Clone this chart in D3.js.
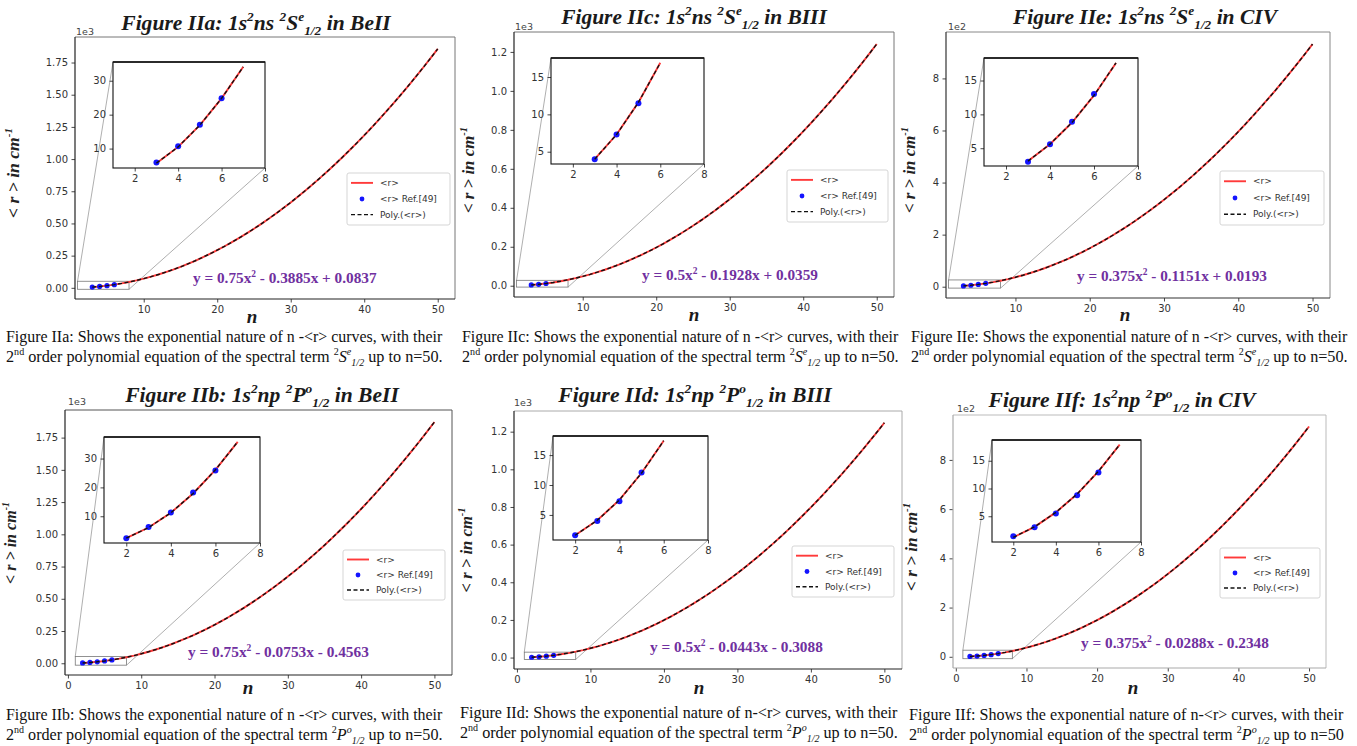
<!DOCTYPE html>
<html><head><meta charset="utf-8">
<script src="https://cdn.jsdelivr.net/npm/d3@7"></script>
<style>body{margin:0;background:#fff}svg{display:block}text{white-space:pre}</style>
</head><body><svg id="c" width="1357" height="746"></svg>
<script>
// ---------------- DATA ----------------
const nS = [3,4,5,6,7,8,9,10,11,12,13,14,15,16,17,18,19,20,21,22,23,24,25,26,27,28,29,30,31,32,33,34,35,36,37,38,39,40,41,42,43,44,45,46,47,48,49,50];
const nP = [2,3,4,5,6,7,8,9,10,11,12,13,14,15,16,17,18,19,20,21,22,23,24,25,26,27,28,29,30,31,32,33,34,35,36,37,38,39,40,41,42,43,44,45,46,47,48,49,50];

// <r> values (BeII ns 2S, BeII np 2P, BIII ns 2S, BIII np 2P, CIV ns 2S, CIV np 2P)
const rBeS = [5.7,10.5,16.9,24.8,34.1,45.0,57.3,71.2,86.6,103.4,121.8,141.6,163.0,185.9,210.2,236.1,263.5,292.3,322.7,354.5,387.9,422.8,459.1,497.0,536.3,577.2,619.6,663.4,708.8,755.7,804.0,853.9,905.2,958.1,1012.5,1068.3,1125.7,1184.5,1244.9,1306.8,1370.1,1435.0,1501.4,1569.2,1638.6,1709.4,1781.8,1855.7];
const rBeP = [2.4,6.1,11.2,17.9,26.1,35.8,46.9,59.6,73.8,89.5,106.6,125.3,145.5,167.2,190.3,215.0,241.2,268.9,298.0,328.7,360.9,394.6,429.7,466.4,504.6,544.3,585.4,628.1,672.3,718.0,765.1,813.8,864.0,915.7,968.8,1023.5,1079.7,1137.4,1196.5,1257.2,1319.4,1383.1,1448.2,1514.9,1583.1,1652.8,1723.9,1796.6,1870.8];
const rBS = [4.0,7.3,11.6,16.9,23.2,30.5,38.8,48.1,58.4,69.7,82.0,95.3,109.6,125.0,141.3,158.6,176.9,196.2,216.5,237.8,260.1,283.4,307.7,333.0,359.3,386.6,415.0,444.3,474.6,505.9,538.2,571.5,605.8,641.1,677.4,714.7,753.0,792.3,832.6,873.9,916.3,959.6,1003.9,1049.2,1095.5,1142.8,1191.1,1240.4];
const rBP = [1.6,4.1,7.5,12.0,17.4,23.9,31.3,39.8,49.3,59.7,71.2,83.6,97.1,111.5,127.0,143.4,160.9,179.4,198.8,219.3,240.7,263.2,286.6,311.1,336.5,363.0,390.5,418.9,448.4,478.8,510.3,542.7,576.2,610.6,646.1,682.6,720.0,758.5,797.9,838.4,879.8,922.3,965.7,1010.2,1055.7,1102.1,1149.6,1198.0,1247.5];
const rCS = [3.1,5.6,8.8,12.8,17.6,23.1,29.4,36.4,44.1,52.6,61.9,71.9,82.7,94.2,106.4,119.5,133.2,147.7,163.0,179.0,195.8,213.3,231.5,250.5,270.3,290.8,312.1,334.1,356.8,380.3,404.6,429.6,455.4,481.9,509.1,537.2,565.9,595.4,625.7,656.7,688.5,721.0,754.2,788.2,823.0,858.5,894.8,931.8];
const rCP = [1.2,3.1,5.7,9.0,13.1,17.9,23.5,29.9,37.0,44.8,53.4,62.8,72.9,83.7,95.3,107.7,120.8,134.6,149.2,164.5,180.6,197.5,215.1,233.4,252.5,272.4,293.0,314.3,336.4,359.3,382.8,407.2,432.3,458.1,484.7,512.1,540.2,569.0,598.6,629.0,660.1,691.9,724.5,757.8,791.9,826.8,862.4,898.7,935.8];

// Ref.[49] points
const refNBeS = [3,4,5,6],   refBeS = [5.9,10.7,17.0,24.8];
const refNBeP = [2,3,4,5,6], refBeP = [2.4,6.3,11.3,18.2,25.9];
const refNBS  = [3,4,5],     refBS  = [4.0,7.3,11.5];
const refNBP  = [2,3,4,5],   refBP  = [1.6,4.0,7.3,12.1];
const refNCS  = [3,4,5,6],   refCS  = [3.0,5.6,8.9,13.0];
const refNCP  = [2,3,4,5,6], refCP  = [1.4,3.0,5.5,8.8,12.9];

// ticks
const yTicksBe = [0,250,500,750,1000,1250,1500,1750];
const yLabBe = ["0.00","0.25","0.50","0.75","1.00","1.25","1.50","1.75"];
const yTicksB = [0,200,400,600,800,1000,1200];
const yLabB = ["0.0","0.2","0.4","0.6","0.8","1.0","1.2"];
const yTicksC = [0,200,400,600,800];
const yLabC = ["0","2","4","6","8"];
const xTicksS = [10,20,30,40,50];
const xTicksP = [0,10,20,30,40,50];
const insetXTicks = [2,4,6,8];
const insetYBe = [10,20,30];
const insetYBC = [5,10,15];

const legendLabels = ["<r>", "<r> Ref.[49]", "Poly.(<r>)"];

// texts (rich: [text, 'sup'|'sub'|'', italic?])
const titleA = [["Figure IIa: 1s"],["2","sup"],["ns "],["2","sup"],["S"],["e","sup"],["1/2","sub"],[" in BeII"]];
const titleC = [["Figure IIc: 1s"],["2","sup"],["ns "],["2","sup"],["S"],["e","sup"],["1/2","sub"],[" in BIII"]];
const titleE = [["Figure IIe: 1s"],["2","sup"],["ns "],["2","sup"],["S"],["e","sup"],["1/2","sub"],[" in CIV"]];
const titleB = [["Figure IIb: 1s"],["2","sup"],["np "],["2","sup"],["P"],["o","sup"],["1/2","sub"],[" in BeII"]];
const titleD = [["Figure IId: 1s"],["2","sup"],["np "],["2","sup"],["P"],["o","sup"],["1/2","sub"],[" in BIII"]];
const titleF = [["Figure IIf: 1s"],["2","sup"],["np "],["2","sup"],["P"],["o","sup"],["1/2","sub"],[" in CIV"]];

const eqA = [["y = 0.75x"],["2","sup"],[" - 0.3885x + 0.0837"]];
const eqC = [["y = 0.5x"],["2","sup"],[" - 0.1928x + 0.0359"]];
const eqE = [["y = 0.375x"],["2","sup"],[" - 0.1151x + 0.0193"]];
const eqB = [["y = 0.75x"],["2","sup"],[" - 0.0753x - 0.4563"]];
const eqD = [["y = 0.5x"],["2","sup"],[" - 0.0443x - 0.3088"]];
const eqF = [["y = 0.375x"],["2","sup"],[" - 0.0288x - 0.2348"]];

const capA1 = [["Figure IIa: Shows the exponential nature of n -<r> curves, with their"]];
const capC1 = [["Figure IIc: Shows the exponential nature of n -<r> curves, with their"]];
const capE1 = [["Figure IIe: Shows the exponential nature of n -<r> curves, with their"]];
const capB1 = [["Figure IIb: Shows the exponential nature of n -<r> curves, with their"]];
const capD1 = [["Figure IId: Shows the exponential nature of n-<r> curves, with their"]];
const capF1 = [["Figure IIf: Shows the exponential nature of n-<r> curves, with their"]];
const capS2 = [["2"],["nd","sup"],[" order polynomial equation of the spectral term "],["2","sup"],["S","","i"],["e","sup","i"],["1/2","sub","i"],[" up to n=50."]];
const capP2 = [["2"],["nd","sup"],[" order polynomial equation of the spectral term "],["2","sup"],["P","","i"],["o","sup","i"],["1/2","sub","i"],[" up to n=50."]];
const capF2 = [["2"],["nd","sup"],[" order polynomial equation of the spectral term "],["2","sup"],["P","","i"],["o","sup","i"],["1/2","sub","i"],[" up to n=50"]];
const yLabel = [["< r > in cm"],["-1","sup"]];

// ---------------- LAYOUT ----------------
const L = {
 a:{frame:[75,37,455,299], inset:[113,62,265,168], legend:[347,173,450,225], title:[256,30,272], mult:[76,35], ylab:[19,173,90], xlab:[252,323], eq:[193,283,184], cap:[6,342,362,437], spine:['#222','#777']},
 c:{frame:[514,32,894,297], inset:[551,58,704,164], legend:[787,170,888,222], title:[694,24,268], mult:[515,30], ylab:[474,170,86], xlab:[694,321], eq:[642,280,176], cap:[462,342,362,437], spine:['#222','#777']},
 e:{frame:[946,32,1330,298], inset:[984,58,1138,166], legend:[1220,171,1324,225], title:[1145,24,267], mult:[948,30], ylab:[915,170,86], xlab:[1125,321], eq:[1077,281,190], cap:[911,342,362,437], spine:['#333','#888']},
 b:{frame:[65,410,452,675], inset:[104,437,260,543], legend:[343,550,445,600], title:[262,402,276], mult:[68,405], ylab:[16,543,82], xlab:[248,694], eq:[188,657,181], cap:[6,720,740,437], spine:['#222','#555']},
 d:{frame:[514,411,902,669], inset:[553,436,708,540], legend:[792,546,894,597], title:[695,402,276], mult:[514,406], ylab:[472,550,85], xlab:[699,694], eq:[650,652,173], cap:[460,718,738,438], spine:['#222','#aaa']},
 f:{frame:[953,415,1326,668], inset:[992,440,1141,542], legend:[1220,548,1320,598], title:[1122,407,270], mult:[957,412], ylab:[917,547,88], xlab:[1133,694], eq:[1081,648,188], cap:[909,720,740,435], spine:['#aaa','#bbb']}
};

const panels = [
 {k:'a', n:nS, r:rBeS, refN:refNBeS, ref:refBeS, insetMax:7, yT:yTicksBe, yL:yLabBe, xT:xTicksS, iyT:insetYBe, title:titleA, eq:eqA, cap1:capA1, cap2:capS2, mult:'1e3'},
 {k:'c', n:nS, r:rBS,  refN:refNBS,  ref:refBS,  insetMax:6, yT:yTicksB,  yL:yLabB,  xT:xTicksS, iyT:insetYBC, title:titleC, eq:eqC, cap1:capC1, cap2:capS2, mult:'1e3'},
 {k:'e', n:nS, r:rCS,  refN:refNCS,  ref:refCS,  insetMax:7, yT:yTicksC,  yL:yLabC,  xT:xTicksS, iyT:insetYBC, title:titleE, eq:eqE, cap1:capE1, cap2:capS2, mult:'1e2'},
 {k:'b', n:nP, r:rBeP, refN:refNBeP, ref:refBeP, insetMax:7, yT:yTicksBe, yL:yLabBe, xT:xTicksP, iyT:insetYBe, title:titleB, eq:eqB, cap1:capB1, cap2:capP2, mult:'1e3'},
 {k:'d', n:nP, r:rBP,  refN:refNBP,  ref:refBP,  insetMax:6, yT:yTicksB,  yL:yLabB,  xT:xTicksP, iyT:insetYBC, title:titleD, eq:eqD, cap1:capD1, cap2:capP2, mult:'1e3'},
 {k:'f', n:nP, r:rCP,  refN:refNCP,  ref:refCP,  insetMax:7, yT:yTicksC,  yL:yLabC,  xT:xTicksP, iyT:insetYBC, title:titleF, eq:eqF, cap1:capF1, cap2:capF2, mult:'1e2'}
];

// ---------------- DRAW ----------------
const svg = d3.select('#c');
const SERIF = "'Liberation Serif','Times New Roman',serif";
const SANS = "'DejaVu Sans',sans-serif";
const RED = '#ff3a3a', BLUE = '#1414ff', PURPLE = '#7030a0';
const intFmt = d3.format('d');

function rich(sel, parts, fs) {
  sel.selectAll('tspan').remove();
  let cur = 0;
  parts.forEach(([t, m, st]) => {
    const tgt = m === 'sup' ? -0.42 * fs : m === 'sub' ? 0.25 * fs : 0;
    const ts = sel.append('tspan').attr('dy', (tgt - cur).toFixed(2))
      .attr('font-size', m ? (fs * 0.62).toFixed(2) : fs.toFixed(2)).text(t);
    if (st === 'i') ts.attr('font-style', 'italic');
    cur = tgt;
  });
}
function fitRich(sel, parts, fs0, width) {
  rich(sel, parts, fs0);
  const w = sel.node().getBBox().width;
  rich(sel, parts, fs0 * width / w);
}
const padDom = e => { const d = (e[1] - e[0]) * 0.05; return [e[0] - d, e[1] + d]; };

function styleAxis(g, fs) {
  g.select('.domain').remove();
  g.selectAll('.tick line').attr('stroke', '#333').attr('stroke-width', 0.9);
  g.selectAll('.tick text').attr('font-family', SANS).attr('font-size', fs).attr('fill', '#333');
}

panels.forEach((p) => {
  const lay = L[p.k];
  const [l, t, r, b] = lay.frame;
  const pts = p.n.map((n, i) => [n, p.r[i]]);
  const refs = p.refN.map((n, i) => [n, p.ref[i]]);
  const x = d3.scaleLinear().domain(padDom(d3.extent(p.n))).range([l, r]);
  const y = d3.scaleLinear().domain(padDom(d3.extent(p.r))).range([b, t]);
  const g = svg.append('g');

  // inset geometry
  const ipts = pts.filter(d => d[0] <= p.insetMax);
  const iyDom = padDom(d3.extent(ipts, d => d[1]));
  const [il, it, ir, ib] = lay.inset;
  const xi = d3.scaleLinear().domain([1, 8]).range([il, ir]);
  const yi = d3.scaleLinear().domain(iyDom).range([ib, it]);

  // connectors + zoom rect
  g.append('line').attr('x1', x(1)).attr('y1', y(iyDom[1]) - 2).attr('x2', il).attr('y2', it)
    .attr('stroke', '#9a9a9a').attr('stroke-width', 0.8);
  g.append('line').attr('x1', x(8)).attr('y1', y(iyDom[0]) + 2).attr('x2', ir).attr('y2', ib)
    .attr('stroke', '#9a9a9a').attr('stroke-width', 0.8);
  g.append('rect').attr('x', x(1)).attr('y', y(iyDom[1]) - 2)
    .attr('width', x(8) - x(1)).attr('height', y(iyDom[0]) - y(iyDom[1]) + 4)
    .attr('fill', 'none').attr('stroke', '#777').attr('stroke-width', 0.8);

  // main series
  const line = d3.line().x(d => x(d[0])).y(d => y(d[1]));
  g.append('path').datum(pts).attr('d', line).attr('fill', 'none').attr('stroke', RED).attr('stroke-width', 1.9);
  g.selectAll('circle.ref').data(refs).join('circle').attr('class', 'ref')
    .attr('cx', d => x(d[0])).attr('cy', d => y(d[1])).attr('r', 2.6).attr('fill', BLUE);
  g.append('path').datum(pts).attr('d', line).attr('fill', 'none').attr('stroke', '#111')
    .attr('stroke-width', 1.4).attr('stroke-dasharray', '4,2.5');

  // axes
  const ax = g.append('g').attr('transform', `translate(0,${b})`)
    .call(d3.axisBottom(x).tickValues(p.xT).tickFormat(intFmt).tickSize(3.5).tickPadding(3.5));
  styleAxis(ax, 10);
  const ay = g.append('g').attr('transform', `translate(${l},0)`)
    .call(d3.axisLeft(y).tickValues(p.yT).tickFormat((d, i) => p.yL[i]).tickSize(3.5).tickPadding(3.5));
  styleAxis(ay, 10);

  // frame
  g.append('line').attr('x1', l).attr('y1', t).attr('x2', r).attr('y2', t).attr('stroke', lay.spine[1]).attr('stroke-width', 1);
  g.append('line').attr('x1', r).attr('y1', t).attr('x2', r).attr('y2', b).attr('stroke', lay.spine[1]).attr('stroke-width', 1);
  g.append('line').attr('x1', l).attr('y1', t).attr('x2', l).attr('y2', b).attr('stroke', lay.spine[0]).attr('stroke-width', 1.2);
  g.append('line').attr('x1', l).attr('y1', b).attr('x2', r).attr('y2', b).attr('stroke', lay.spine[0]).attr('stroke-width', 1.2);

  // multiplier
  g.append('text').attr('x', lay.mult[0]).attr('y', lay.mult[1]).attr('font-family', SANS)
    .attr('font-size', 9.5).attr('fill', '#444').text(p.mult);

  // legend
  const [ll, lt, lr, lb] = lay.legend;
  const lh = lb - lt;
  const lg = g.append('g');
  lg.append('rect').attr('x', ll).attr('y', lt).attr('width', lr - ll).attr('height', lh).attr('rx', 2)
    .attr('fill', '#fff').attr('fill-opacity', 0.85).attr('stroke', '#d0d0d0').attr('stroke-width', 0.9);
  const rowY = [lt + lh * 0.19, lt + lh * 0.5, lt + lh * 0.8];
  lg.append('line').attr('x1', ll + 4).attr('x2', ll + 26).attr('y1', rowY[0]).attr('y2', rowY[0])
    .attr('stroke', RED).attr('stroke-width', 1.9);
  lg.append('circle').attr('cx', ll + 15).attr('cy', rowY[1]).attr('r', 2.4).attr('fill', BLUE);
  lg.append('line').attr('x1', ll + 4).attr('x2', ll + 26).attr('y1', rowY[2]).attr('y2', rowY[2])
    .attr('stroke', '#111').attr('stroke-width', 1.4).attr('stroke-dasharray', '4,2.5');
  legendLabels.forEach((s, i) => lg.append('text').attr('x', ll + 33).attr('y', rowY[i] + 3.2)
    .attr('font-family', SANS).attr('font-size', 9).attr('fill', '#333').text(s));

  // equation
  const eqT = g.append('text').attr('x', lay.eq[0]).attr('y', lay.eq[1]).attr('font-family', SERIF)
    .attr('font-weight', 'bold').attr('fill', PURPLE);
  fitRich(eqT, p.eq, 15, lay.eq[2]);

  // inset
  const ig = g.append('g');
  const cid = 'clip' + p.k;
  ig.append('clipPath').attr('id', cid).append('rect').attr('x', il).attr('y', it).attr('width', ir - il).attr('height', ib - it);
  ig.append('rect').attr('x', il).attr('y', it).attr('width', ir - il).attr('height', ib - it).attr('fill', '#fff');
  const iline = d3.line().x(d => xi(d[0])).y(d => yi(d[1]));
  const ic = ig.append('g').attr('clip-path', `url(#${cid})`);
  ic.append('path').datum(ipts).attr('d', iline).attr('fill', 'none').attr('stroke', RED).attr('stroke-width', 1.9);
  ic.selectAll('circle').data(refs).join('circle').attr('cx', d => xi(d[0])).attr('cy', d => yi(d[1])).attr('r', 3).attr('fill', BLUE);
  ic.append('path').datum(ipts).attr('d', iline).attr('fill', 'none').attr('stroke', '#111')
    .attr('stroke-width', 1.4).attr('stroke-dasharray', '4,2.5');
  const iax = ig.append('g').attr('transform', `translate(0,${ib})`)
    .call(d3.axisBottom(xi).tickValues(insetXTicks).tickFormat(intFmt).tickSize(3.5).tickPadding(3.5));
  styleAxis(iax, 10);
  const iay = ig.append('g').attr('transform', `translate(${il},0)`)
    .call(d3.axisLeft(yi).tickValues(p.iyT).tickFormat(intFmt).tickSize(3.5).tickPadding(3.5));
  styleAxis(iay, 10);
  ig.append('rect').attr('x', il).attr('y', it).attr('width', ir - il).attr('height', ib - it)
    .attr('fill', 'none').attr('stroke', '#111').attr('stroke-width', 1.1);
  ig.append('line').attr('x1', il).attr('x2', ir).attr('y1', it).attr('y2', it).attr('stroke', '#111').attr('stroke-width', 1.6);

  // title
  const tt = g.append('text').attr('x', lay.title[0]).attr('y', lay.title[1]).attr('text-anchor', 'middle')
    .attr('font-family', SERIF).attr('font-weight', 'bold').attr('font-style', 'italic').attr('fill', '#1a1a1a');
  fitRich(tt, p.title, 20, lay.title[2]);

  // axis labels
  g.append('text').attr('x', lay.xlab[0]).attr('y', lay.xlab[1]).attr('text-anchor', 'middle')
    .attr('font-family', SERIF).attr('font-weight', 'bold').attr('font-style', 'italic')
    .attr('font-size', 19).attr('fill', '#1a1a1a').text('n');
  const yl = g.append('text').attr('transform', `translate(${lay.ylab[0]},${lay.ylab[1]}) rotate(-90)`)
    .attr('text-anchor', 'middle').attr('font-family', SERIF).attr('font-weight', 'bold')
    .attr('font-style', 'italic').attr('fill', '#222');
  fitRich(yl, yLabel, 12, lay.ylab[2]);

  // captions
  const c1 = g.append('text').attr('x', lay.cap[0]).attr('y', lay.cap[1]).attr('font-family', SERIF).attr('fill', '#111');
  fitRich(c1, p.cap1, 13.5, lay.cap[3]);
  const c2 = g.append('text').attr('x', lay.cap[0]).attr('y', lay.cap[2]).attr('font-family', SERIF).attr('fill', '#111');
  fitRich(c2, p.cap2, 13.5, lay.cap[3]);
});
</script></body></html>
